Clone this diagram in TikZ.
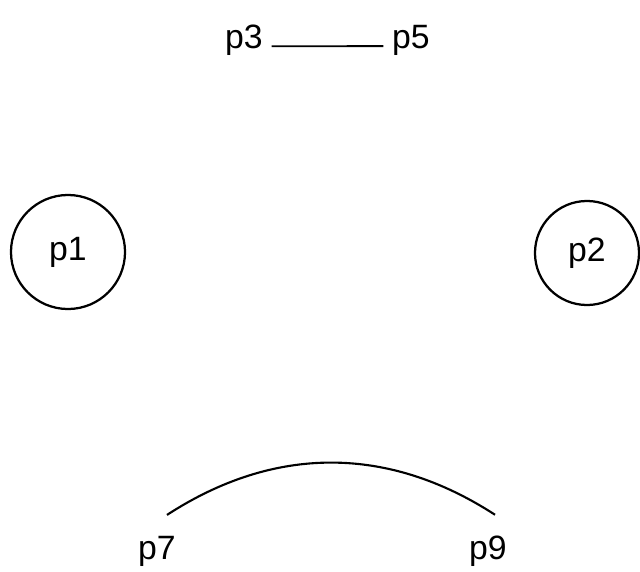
\documentclass[tikz,border=0pt]{standalone}
\usepackage{fontspec}
\setmainfont{Liberation Sans}
\usepackage{tikz}
\usetikzlibrary{arrows.meta}

\begin{document}
\begin{tikzpicture}[x=0.025cm, y=-0.025cm, >=Latex, every node/.style={font=\fontsize{24}{28}\selectfont}, place/.style={draw, circle, line width=1.6pt}]
\useasboundingbox (0,0) rectangle (640,572);
\node (p3) at (244,40) {p3};
\node (p5) at (411,40) {p5};
\node[place, minimum size=2.85cm] (p1) at (68,252) {p1};
\node[place, minimum size=2.6cm] (p2) at (587,253) {p2};
\node (p7) at (157,551) {p7};
\node (p9) at (488,551) {p9};
\draw[line width=1.3pt] ([xshift=1mm, yshift=0.5mm]p3.base east) -- ([xshift=-1mm, yshift=0.5mm]p5.base west);
\draw[line width=1.5pt] ([xshift=2.5mm, yshift=4mm]p7.north) to[bend left=33] ([xshift=1.75mm, yshift=4mm]p9.north);
\end{tikzpicture}
\end{document}
